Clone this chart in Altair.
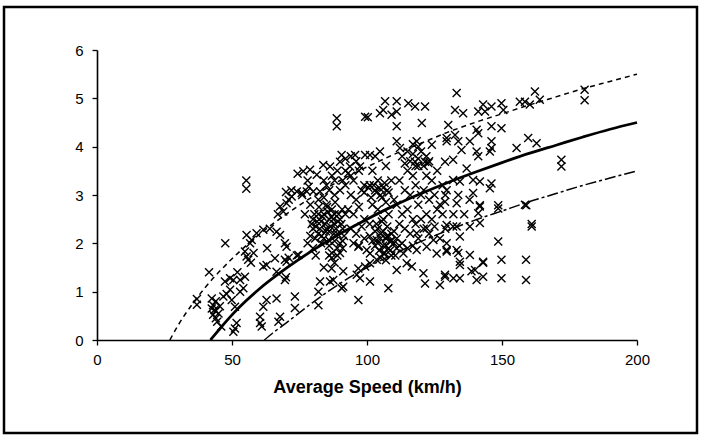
import altair as alt
import pandas as pd

# ---------------- data ----------------
# scatter points: (average speed km/h, value)
pts_slow = [
    (37, 0.85), (37, 0.73), (41.5, 1.4), (42.5, 0.86), (43, 0.72), (43.5, 0.62), (43, 0.52),
    (44, 0.45), (42.5, 0.65), (44, 0.8), (45, 0.55), (45.5, 0.7), (44.5, 0.38), (46, 0.28),
    (46.8, 0.9), (47.4, 1.21), (47.5, 2.0), (49.3, 1.04), (49.3, 1.28), (49.9, 0.83),
    (50.5, 1.24), (51.1, 0.69), (51.7, 0.35), (51.1, 0.24), (50.5, 0.17), (53, 1.24),
    (54.2, 1.07), (54.8, 1.31), (54.8, 1.83), (55.4, 2.17), (55.4, 1.73), (55.3, 3.3),
    (55.3, 3.13), (52, 1.4), (53, 1.0), (56, 1.66), (56.7, 2.0), (57.3, 2.07), (59.1, 2.21),
    (58, 1.8), (57, 1.6), (44, 0.6), (48, 0.95),
]
pts_60_80 = [
    (61.6, 2.28), (61.6, 1.52), (62.8, 1.55), (62.8, 0.83), (61.6, 0.69), (60.4, 0.48),
    (60.4, 0.35), (61, 0.28), (66.5, 2.24), (67.8, 2.17), (69.6, 2.0), (70.2, 1.93),
    (65.9, 1.69), (69.6, 1.66), (70.2, 1.62), (74.6, 1.76), (66.5, 1.41), (69.6, 1.24),
    (66.5, 0.86), (67.8, 0.48), (67.2, 0.38), (73.3, 0.9), (73.3, 0.66), (67.8, 2.76),
    (69, 2.66), (70.2, 2.83), (72.1, 2.97), (74, 3.07), (67, 2.6), (70, 1.3), (71, 1.7),
    (70, 3.06), (74.3, 3.44), (78.4, 3.17), (75.8, 3.04), (77.7, 3.07), (76.4, 3.49),
    (78.9, 3.52), (72, 3.1), (71, 2.9), (76, 3.0), (78, 3.3), (77, 2.6), (79, 2.8),
    (79.5, 2.4), (79, 2.15), (78, 2.0), (74, 1.75), (64, 2.3), (63, 1.9),
]
pts_80_100 = [
    (80.1, 3.07), (82.6, 3.07), (81.4, 3.42), (83.8, 3.62), (86.3, 3.59), (90, 3.69),
    (88, 3.3), (85, 3.2), (82, 2.9), (80, 2.5), (81, 2.35), (82, 2.2), (83, 2.45), (84, 2.6),
    (85, 2.3), (86, 2.5), (87, 2.7), (88, 2.4), (89, 2.2), (84, 2.1), (86, 1.95), (88, 2.05),
    (90, 2.5), (91, 2.3), (87, 1.8), (89, 1.75), (85, 2.8), (83, 2.0), (80, 2.3), (82, 2.6),
    (86, 2.25), (88, 2.6), (90, 2.0), (92, 2.6), (91, 1.9), (80, 1.9), (81, 1.75), (84, 1.5),
    (82, 1.0), (82, 0.72), (82.6, 1.21), (86.3, 1.21), (87.5, 1.24), (91.2, 1.1), (90.6, 1.07),
    (86.9, 1.48), (91.2, 1.42), (96.2, 1.35), (96.8, 1.48), (97.4, 1.28), (96.8, 0.83),
    (80.5, 2.6), (81.5, 2.45), (82.5, 2.3), (83.5, 2.55), (84.5, 2.4), (85.5, 2.65),
    (86.5, 2.35), (87.5, 2.5), (88.5, 2.3), (89.5, 2.6), (90.5, 2.4), (91.5, 2.15),
    (83.2, 2.15), (84.8, 2.25), (86.2, 2.05), (87.8, 2.2), (89.2, 2.45), (90.8, 2.7),
    (85.2, 2.75), (88.2, 2.85), (86.8, 2.55), (82.2, 2.75), (80.8, 2.1), (91, 2.05),
    (89, 1.9), (87, 1.7), (88, 1.6), (86, 1.75), (90, 1.8),
    (88.8, 4.59), (88.8, 4.42), (90.6, 3.83), (95.6, 3.83), (99.3, 3.83), (93.7, 3.59),
    (97.4, 3.59), (84, 3.3), (87, 3.4), (89, 3.5), (91, 3.3), (92, 3.5), (94, 3.4),
    (86, 3.1), (88, 3.0), (90, 3.1), (92, 3.2), (84, 2.95),
    (92, 3.75), (94, 3.8), (96, 3.7), (93, 3.45), (95, 3.3), (97, 3.5), (99, 3.2),
    (94, 3.0), (96, 2.9), (98, 3.1), (93, 2.7), (95, 2.6), (97, 2.75), (99, 2.5),
    (94, 2.3), (96, 2.2), (98, 2.35), (95, 2.0), (97, 1.95), (99, 2.1), (96.8, 1.93),
    (99.9, 1.86), (99.3, 1.52), (99, 3.05), (99.3, 4.62),
]
pts_100_120 = [
    (100.3, 4.61), (104.8, 4.69), (106, 4.76), (109.1, 4.66), (111, 4.73), (106.7, 4.94),
    (111, 4.94), (104.8, 3.9), (101.1, 3.83), (103, 3.8), (107, 3.6), (102, 3.5), (104, 3.3),
    (106, 3.15), (108, 3.05), (101, 3.2), (103, 3.1), (105, 3.0), (107, 2.85), (109, 3.3),
    (102, 2.8), (104, 2.7), (106, 2.5), (108, 2.6), (110, 2.9), (101, 2.4), (103, 2.25),
    (105, 2.2), (107, 2.1), (109, 2.2), (104, 2.0), (106, 1.95), (108, 1.9), (110, 2.0),
    (105, 1.7), (107, 1.65), (109, 1.75), (101.1, 1.79), (103.6, 2.07), (107.3, 2.14),
    (108.5, 2.04), (106.1, 1.79), (111, 1.9), (103.6, 1.66), (101.1, 1.59), (101.1, 1.21),
    (107.9, 1.07), (101, 2.15), (102, 2.05), (103, 1.95), (104, 2.3), (105, 2.1), (106, 2.25),
    (107, 1.95), (108, 2.15), (109, 2.05), (110, 2.25), (111, 2.1), (112, 1.95),
    (104.5, 1.85), (106.5, 1.8), (108.5, 1.85), (110.5, 1.75), (103.5, 2.4), (105.5, 2.45),
    (107.5, 2.35), (100.5, 3.15), (101.5, 2.95), (102.5, 3.2), (103.5, 3.05), (104.5, 3.15),
    (105.5, 2.95), (106.5, 3.25), (107.5, 3.1),
    (111, 4.42), (111, 4.11), (112.2, 3.97), (115.3, 4.9), (117.8, 4.83), (118.4, 4.11),
    (117.8, 3.69), (113, 3.8), (115, 3.5), (117, 3.4), (119, 3.6), (112, 3.3), (114, 3.1),
    (116, 3.0), (118, 3.2), (120, 3.0), (111, 2.8), (113, 2.6), (115, 2.7), (117, 2.5),
    (119, 2.8), (112, 2.4), (114, 2.3), (116, 2.2), (118, 2.4), (120, 2.5), (113, 2.0),
    (115, 1.9), (117, 1.95), (119, 2.1), (120.3, 4.49), (111, 1.45), (114.7, 1.59),
    (116.6, 1.52), (113.5, 1.79), (118.4, 1.86), (118.4, 2.21),
    (114, 3.65), (115, 3.9), (116, 3.7), (117, 3.85), (118, 3.6), (119, 3.75), (120, 3.9),
    (117, 4.05), (119, 4.0),
]
pts_120_140 = [
    (121.5, 4.83), (124, 4.04), (121.5, 3.69), (122.7, 3.66), (129.5, 4.11), (128.9, 3.69),
    (130.1, 4.45), (122, 3.4), (124, 3.3), (126, 3.5), (128, 3.2), (121, 3.1), (123, 2.9),
    (125, 3.0), (127, 2.8), (129, 3.0), (122, 2.6), (124, 2.5), (126, 2.7), (128, 2.6),
    (121, 2.3), (123, 2.2), (125, 2.35), (127, 2.1), (129, 2.3), (122.1, 2.31), (124.6, 2.07),
    (125.8, 1.79), (122.1, 1.93), (120.9, 1.38), (121.5, 1.17), (127, 1.14), (128.9, 1.35),
    (129.5, 1.86), (129.5, 2.38), (121, 3.6), (122, 3.8), (123, 3.7),
    (133.2, 5.11), (132.6, 4.76), (135.6, 4.69), (129.5, 4.18), (132.6, 4.24), (133.8, 4.11),
    (138.1, 4.11), (135, 3.93), (131.9, 3.73), (136.9, 3.55), (131.9, 3.31), (134.4, 3.28),
    (139.3, 3.31), (129.5, 3.1), (133.8, 3.0), (139.3, 3.04), (128.9, 2.86), (133.2, 2.83),
    (132, 1.28), (133.2, 1.86), (133.2, 2.35), (131.9, 2.35), (134.4, 2.14), (138.1, 2.35),
    (134.4, 1.55), (134.4, 1.62), (138.1, 1.76), (134.4, 1.28), (138.7, 1.42), (136, 2.6),
    (132, 2.6), (138, 2.9), (129.5, 2.0), (129.5, 1.83), (133.8, 1.8), (128.9, 1.31),
]
pts_fast = [
    (141.2, 4.73), (143, 4.87), (143.7, 4.73), (146.1, 4.83), (149.8, 4.9), (150.5, 4.76),
    (146.1, 4.42), (149.8, 4.38), (140.6, 4.35), (141.2, 4.28), (146.1, 4.11), (146.1, 3.97),
    (145.5, 3.9), (140.6, 3.9), (141.2, 3.8), (141.8, 3.28), (146.1, 3.24), (145.5, 3.14),
    (141.8, 2.79), (148.6, 2.79), (148.6, 2.72), (141.2, 2.62), (141.8, 2.42), (148.6, 2.04),
    (149.8, 1.66), (149.8, 1.28), (143, 1.6), (143, 1.62), (140, 1.45), (143, 1.31),
    (140.6, 1.24), (141.8, 2.76),
    (156.6, 4.93), (158.5, 4.93), (160.3, 4.87), (164, 4.97), (162.2, 5.14), (155.4, 3.97),
    (159.7, 4.18), (162.8, 4.07), (172, 3.73), (172, 3.59), (159, 2.79), (158.5, 2.8),
    (161, 2.4), (161, 2.35), (158.9, 1.66), (158.9, 1.24), (180.6, 5.18), (180.6, 4.96),
]

# fitted curves
mid_speed = [42, 45, 50, 55, 60, 70, 80, 90, 100, 110, 120, 130, 140, 150, 160, 170, 180, 190, 200]
mid_value = [0, 0.2, 0.52, 0.8, 1.05, 1.48, 1.86, 2.2, 2.5, 2.78, 3.03, 3.26, 3.47, 3.67, 3.86,
             4.03, 4.2, 4.36, 4.5]
upper_speed = [27, 30, 35, 40, 50, 60, 70, 80, 90, 100, 110, 120, 130, 140, 150, 160, 170, 180, 190, 200]
upper_value = [0, 0.3, 0.72, 1.08, 1.68, 2.18, 2.6, 2.97, 3.3, 3.58, 3.84, 4.07, 4.3, 4.5, 4.68,
               4.86, 5.03, 5.2, 5.35, 5.5]
lower_speed = [62, 65, 70, 80, 90, 100, 110, 120, 130, 140, 150, 160, 170, 180, 190, 200]
lower_value = [0, 0.14, 0.35, 0.78, 1.17, 1.5, 1.78, 2.04, 2.27, 2.48, 2.67, 2.86, 3.03, 3.2,
               3.35, 3.5]

x_ticks = [0, 50, 100, 150, 200]
y_ticks = [0, 1, 2, 3, 4, 5, 6]

# ---------------- chart ----------------
all_pts = pts_slow + pts_60_80 + pts_80_100 + pts_100_120 + pts_120_140 + pts_fast
scatter_df = pd.DataFrame(all_pts, columns=["speed", "value"])
mid_df = pd.DataFrame({"speed": mid_speed, "value": mid_value})
upper_df = pd.DataFrame({"speed": upper_speed, "value": upper_value})
lower_df = pd.DataFrame({"speed": lower_speed, "value": lower_value})

FONT = "Liberation Sans"
xscale = alt.Scale(domain=[0, 200], nice=False, zero=True)
yscale = alt.Scale(domain=[0, 6], nice=False, zero=True)

x_axis = alt.Axis(values=x_ticks, grid=False, domainColor="black", domainWidth=1.6,
                  tickColor="black", tickSize=5, tickWidth=1.3,
                  labelFont=FONT, labelFontSize=15, labelColor="black", labelPadding=7,
                  labelFlush=False,
                  title="Average Speed (km/h)", titleFont=FONT, titleFontSize=18,
                  titleFontWeight="bold", titleColor="black", titlePadding=11)
y_axis = alt.Axis(values=y_ticks, grid=False, domainColor="black", domainWidth=1.6,
                  tickColor="black", tickSize=5, tickWidth=1.3,
                  labelFont=FONT, labelFontSize=15, labelColor="black", labelPadding=9,
                  title=None)

X = alt.X("speed:Q", scale=xscale, axis=x_axis)
Y = alt.Y("value:Q", scale=yscale, axis=y_axis)

scatter = alt.Chart(scatter_df).mark_point(
    shape="M-1,-1L1,1M-1,1L1,-1", filled=False, stroke="black", strokeWidth=1.4,
    size=64, opacity=1
).encode(x=X, y=Y)

mid_line = alt.Chart(mid_df).mark_line(color="black", strokeWidth=2.8,
                                        interpolate="monotone").encode(x=X, y=Y)
upper_line = alt.Chart(upper_df).mark_line(color="black", strokeWidth=1.5,
                                            strokeDash=[5, 4],
                                            interpolate="monotone").encode(x=X, y=Y)
lower_line = alt.Chart(lower_df).mark_line(color="black", strokeWidth=1.5,
                                            strokeDash=[11, 3, 3, 3],
                                            interpolate="monotone").encode(x=X, y=Y)

frame = alt.Chart(pd.DataFrame({"k": [0]})).mark_rect(
    fillOpacity=0, stroke="black", strokeWidth=2.5
).encode(x=alt.value(-93), x2=alt.value(600), y=alt.value(-43), y2=alt.value(383))

chart = alt.layer(scatter, upper_line, lower_line, mid_line, frame).properties(
    width=540, height=290,
    autosize=alt.AutoSizeParams(type="none"),
    padding={"left": 97, "top": 50, "right": 64, "bottom": 98},
    background="white",
).configure_view(strokeWidth=0)

chart.save("out.html", embed_options={"renderer": "svg", "actions": False})
